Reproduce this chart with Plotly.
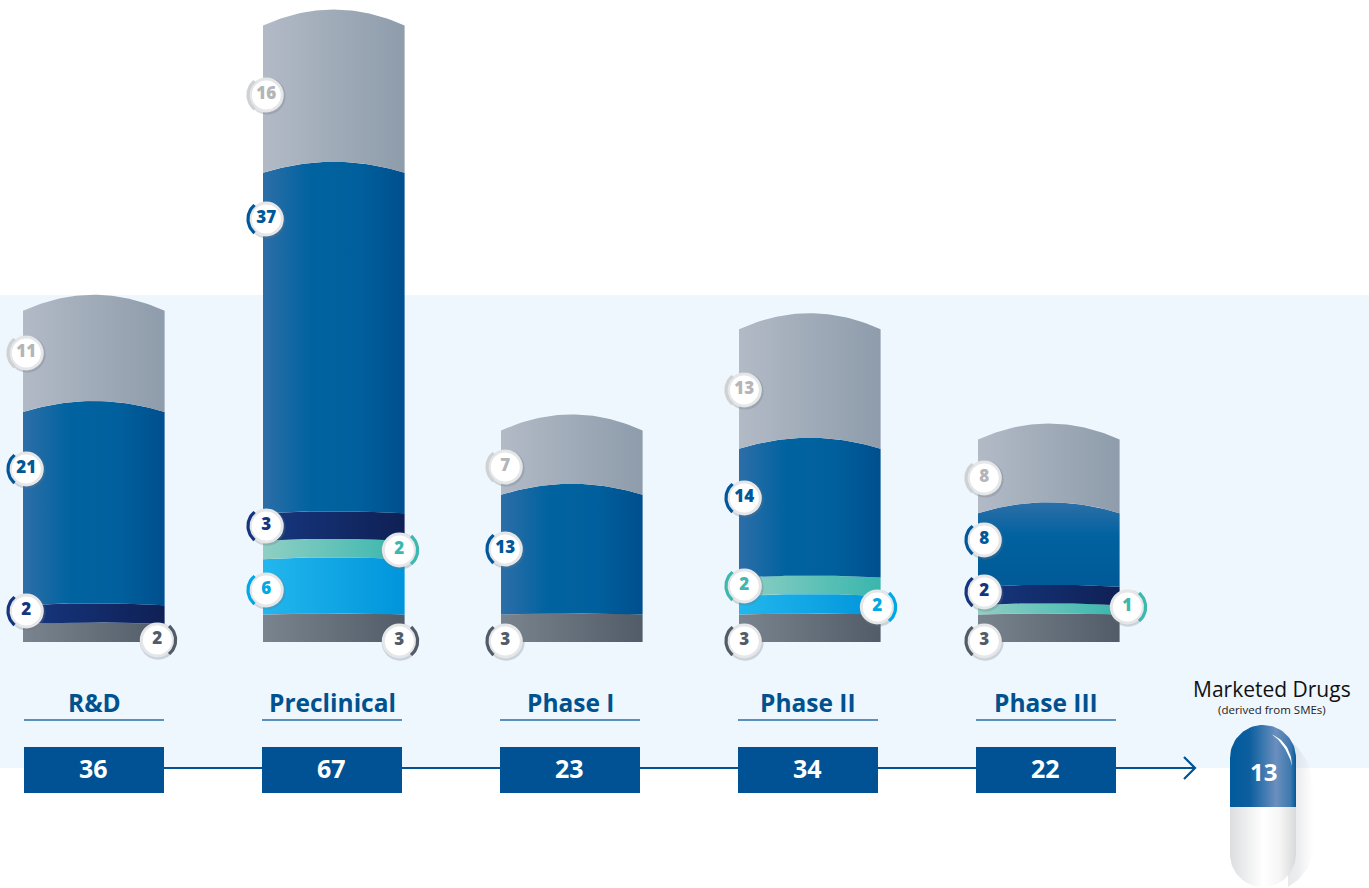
import math
import plotly.graph_objects as go

# ---------- data ----------
stages = ["R&D", "Preclinical", "Phase I", "Phase II", "Phase III"]
totals = [36, 67, 23, 34, 22]
dark_grey = [2, 3, 3, 3, 3]
cyan = [0, 6, 0, 2, 0]
teal = [0, 2, 0, 2, 1]
navy = [2, 3, 0, 0, 2]
blue = [21, 37, 13, 14, 8]
light_grey = [11, 16, 7, 13, 8]
marketed_title = "Marketed Drugs"
marketed_sub = "(derived from SMEs)"
marketed_value = 13

series = [
    ("dark_grey", dark_grey), ("cyan", cyan), ("teal", teal),
    ("navy", navy), ("blue", blue), ("light_grey", light_grey),
]

# ---------- styling / layout constants ----------
W, H = 1369, 888
BASE_PX = 642
PX_PER_UNIT = 9.2
bar_left = [23, 263, 501, 739, 978]
BAR_W = 141.6
box_left = [24, 262, 500, 738, 976]
BOX_W = 140
BLUE = "#00528f"
BOX_BLUE = "#005294"
grad = {
    "dark_grey": ["#7a848e", "#515c68"],
    "cyan": ["#22b7ed", "#0094db"],
    "teal": ["#8fcfc4", "#38b6ad"],
    "navy": ["#16377f", "#0f2055"],
    "blue": ["#2d6ea8", "#00639f", "#00609d", "#004f8e"],
    "light_grey": ["#b2bac6", "#8e9cab"],
}
ink = {
    "dark_grey": "#515c68", "cyan": "#00a8e6", "teal": "#3cb8ae",
    "navy": "#15357f", "blue": "#00589a", "light_grey": "#b4b5b8",
}
arc_col = dict(ink, light_grey="#cfd1d3")
rise_px = {"dark_grey": 1, "cyan": 2, "teal": 2, "navy": 2, "blue": 11, "light_grey": 16}
# badge centres per stage: series -> (x px, y px, side)
badges = [
    {"light_grey": (26.3, 353, "L"), "blue": (26.3, 469, "L"), "navy": (26.3, 611, "L"), "dark_grey": (157.3, 640, "R")},
    {"light_grey": (266.3, 95, "L"), "blue": (266.3, 219, "L"), "navy": (266.3, 526, "L"), "teal": (399.3, 550, "R"),
     "cyan": (266.3, 590, "L"), "dark_grey": (399.3, 641, "R")},
    {"light_grey": (505.3, 467, "L"), "blue": (505.3, 549, "L"), "dark_grey": (505.3, 641, "L")},
    {"light_grey": (744.3, 390, "L"), "blue": (744.3, 498, "L"), "teal": (744.3, 586, "L"), "cyan": (877.3, 607, "R"),
     "dark_grey": (744.3, 641, "L")},
    {"light_grey": (984.3, 478, "L"), "blue": (984.3, 540, "L"), "navy": (984.3, 592, "L"), "teal": (1127.3, 607, "R"),
     "dark_grey": (984.3, 641, "L")},
]


def yv(px):
    return (BASE_PX - px) / PX_PER_UNIT


def scale(cols):
    n = len(cols) - 1
    return [[i / n, c] for i, c in enumerate(cols)]


def curve(x0, v, rise, reverse=False):
    xs, ys = [], []
    for k in range(41):
        t = k / 40
        xs.append(x0 + BAR_W * t)
        ys.append(v + rise / PX_PER_UNIT * (1 - (2 * t - 1) ** 2))
    return (xs[::-1], ys[::-1]) if reverse else (xs, ys)


fig = go.Figure()

# stacked segments
for i, stage in enumerate(stages):
    cum = 0
    prev_rise = 0
    for name, vals in series:
        v = vals[i]
        if v == 0:
            continue
        top_x, top_y = curve(bar_left[i], cum + v, rise_px[name])
        bot_x, bot_y = curve(bar_left[i], cum, prev_rise, reverse=True)
        fg = dict(type="horizontal", colorscale=scale(grad[name]))
        if stage == "Phase III" and name == "blue":
            fg = dict(type="vertical", colorscale=[[0, "#005a97"], [0.6, "#00629f"], [1, "#2d6fa8"]])
        fig.add_trace(go.Scatter(
            x=top_x + bot_x, y=top_y + bot_y, mode="lines", line=dict(width=0),
            fill="toself", fillgradient=fg,
            name=f"{stage} {name}", hoverinfo="skip", showlegend=False))
        cum += v
        prev_rise = rise_px[name]

# badges
for i, group in enumerate(badges):
    vals = dict(series)
    for name, (bx, by, side) in group.items():
        fig.add_trace(go.Scatter(
            x=[bx + 0.8], y=[yv(by + 1.2)], mode="markers", hoverinfo="skip", showlegend=False,
            marker=dict(size=37, color="rgba(110,120,130,0.28)", line=dict(width=0))))
        fig.add_trace(go.Scatter(
            x=[bx], y=[yv(by)], mode="markers+text", text=[str(vals[name][i])],
            textposition="middle center", hoverinfo="skip", showlegend=False,
            textfont=dict(family="Open Sans", size=17, color=ink[name], weight=800),
            marker=dict(size=32, color="white", line=dict(width=3, color="#e4e6e8"))))
        c = 180 if side == "L" else 0
        ax, ay = [], []
        for k in range(21):
            a = math.radians(c - 50 + 100 * k / 20)
            ax.append(bx + 18.3 * math.cos(a))
            ay.append(yv(by - 18.3 * math.sin(a)))
        fig.add_trace(go.Scatter(x=ax, y=ay, mode="lines", hoverinfo="skip", showlegend=False,
                                 line=dict(color=arc_col[name], width=3.2)))

shapes = [dict(type="rect", xref="x", yref="y", x0=0, x1=W, y0=yv(295), y1=yv(768),
               fillcolor="#eef6fe", line_width=0, layer="below")]
annotations = []

# connector and arrow
fig.add_trace(go.Scatter(x=[box_left[0], 1195], y=[yv(768), yv(768)], mode="lines", hoverinfo="skip",
                         showlegend=False, line=dict(color=BOX_BLUE, width=2.2)))
fig.add_trace(go.Scatter(x=[1184, 1195, 1184], y=[yv(757), yv(768), yv(779)], mode="lines", hoverinfo="skip",
                         showlegend=False, line=dict(color=BOX_BLUE, width=2.2)))

# stage labels, rules and total boxes
for i, stage in enumerate(stages):
    cx = box_left[i] + BOX_W / 2
    shapes.append(dict(type="line", xref="x", yref="y", x0=box_left[i], x1=box_left[i] + BOX_W,
                       y0=yv(720), y1=yv(720), line=dict(color="#2a6ca6", width=1.4)))
    fig.add_trace(go.Bar(x=[cx], y=[yv(747) - yv(793)], base=[yv(793)], width=[BOX_W],
                         marker=dict(color=BOX_BLUE, line_width=0), hoverinfo="skip", showlegend=False))
    annotations.append(dict(x=cx, y=yv(702), xref="x", yref="y", text=f"<b>{stage.replace('&', '&amp;')}</b>",
                            showarrow=False, font=dict(family="Open Sans", size=24.5, color=BLUE)))
    annotations.append(dict(x=cx - 1, y=yv(768), xref="x", yref="y", text=f"<b>{totals[i]}</b>",
                            showarrow=False, font=dict(family="Open Sans", size=25, color="white")))


# capsule
def capsule_half(top):
    R, cx, cy_top, cy_bot, mid = 33, 1263, 758, 854, 807
    xs, ys = [], []
    if top:
        for k in range(41):
            a = math.pi - math.pi * k / 40
            xs.append(cx + R * math.cos(a))
            ys.append(yv(cy_top - R * math.sin(a)))
        xs += [cx + R, cx - R]
        ys += [yv(mid), yv(mid)]
    else:
        for k in range(41):
            a = math.pi * k / 40
            xs.append(cx + R * math.cos(a))
            ys.append(yv(cy_bot + R * math.sin(a)))
        xs += [cx - R, cx + R]
        ys += [yv(mid), yv(mid)]
    return xs, ys


# soft shadow at the right of the capsule
fig.add_trace(go.Scatter(
    x=[1288, 1298, 1308, 1314, 1314, 1308, 1298, 1288],
    y=[yv(738), yv(748), yv(762), yv(785), yv(850), yv(868), yv(880), yv(887)], mode="lines", line=dict(width=0),
    fill="toself", hoverinfo="skip", showlegend=False,
    fillgradient=dict(type="horizontal", colorscale=[[0, "rgba(170,175,185,0.28)"], [0.4, "rgba(170,175,185,0.22)"],
                                                     [1, "rgba(190,195,200,0)"]])))
xs, ys = capsule_half(False)
fig.add_trace(go.Scatter(x=xs, y=ys, mode="lines", line=dict(width=0), fill="toself", hoverinfo="skip",
                         showlegend=False, fillgradient=dict(type="horizontal", colorscale=[
                             [0, "#dcdddf"], [0.5, "#ffffff"], [0.75, "#f6f6f6"], [1, "#d8d9da"]])))
xs, ys = capsule_half(True)
fig.add_trace(go.Scatter(x=xs, y=ys, mode="lines", line=dict(width=0), fill="toself", hoverinfo="skip",
                         showlegend=False, fillgradient=dict(type="horizontal", colorscale=[
                             [0, "#005a9c"], [0.3, "#0d5f9f"], [0.7, "#6a8fbe"], [0.92, "#3d78ae"], [1, "#00589a"]])))
# crescent highlight
ox, oy, ix, iy = [], [], [], []
for k in range(21):
    a = math.radians(72 * k / 20)
    ox.append(1263 + 29 * math.cos(a))
    oy.append(yv(766 - 33 * math.sin(a)))
    r = 2.4 * math.sin(math.pi * k / 20)
    ix.append(1263 + (29 - r) * math.cos(a))
    iy.append(yv(766 - (33 - r) * math.sin(a)))
fig.add_trace(go.Scatter(x=ox + ix[::-1], y=oy + iy[::-1], mode="lines", line=dict(width=0, color="white"),
                         fill="toself", fillcolor="white", hoverinfo="skip", showlegend=False))

annotations += [
    dict(x=1272, y=yv(688.5), xref="x", yref="y", text=marketed_title, showarrow=False,
         font=dict(family="Open Sans", size=21, color="#111111")),
    dict(x=1272, y=yv(709), xref="x", yref="y", text=marketed_sub, showarrow=False,
         font=dict(family="Open Sans", size=11.5, color="#222222")),
    dict(x=1263, y=yv(771), xref="x", yref="y", text=f"<b>{marketed_value}</b>", showarrow=False,
         font=dict(family="Open Sans", size=24, color="white")),
]

fig.update_layout(
    width=W, height=H, margin=dict(l=0, r=0, t=0, b=0), paper_bgcolor="white", plot_bgcolor="white",
    showlegend=False, shapes=shapes, annotations=annotations, barmode="overlay",
    xaxis=dict(range=[0, W], visible=False, fixedrange=True),
    yaxis=dict(range=[yv(H), yv(0)], visible=False, fixedrange=True),
)
fig.write_html("out.html", post_script="document.body.style.margin='0';", config={"displayModeBar": False})
